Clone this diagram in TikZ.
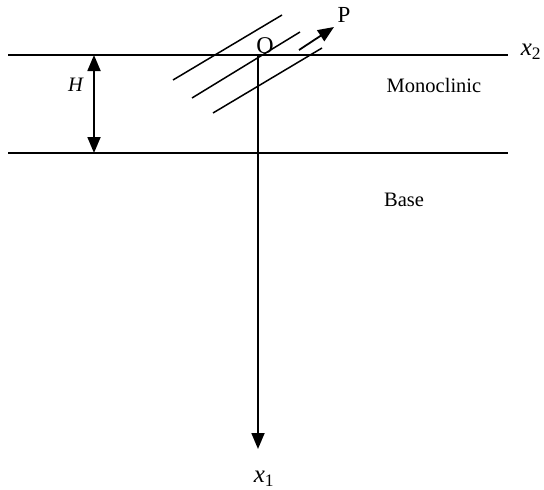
\documentclass[tikz,border=0pt]{standalone}
\usepackage{fontspec}
\setmainfont{Liberation Serif}
\usetikzlibrary{arrows.meta}

\begin{document}
\begin{tikzpicture}[x=1pt, y=-1pt,
	    layer/.style={draw=black, line width=1.5pt},
	    axis/.style={draw=black, line width=1.8pt, -{Triangle[length=16pt,width=13pt]}},
	    lbl/.style={inner sep=0pt, font=\fontsize{20.5}{24}\selectfont},
	    axlbl/.style={inner sep=0pt, font=\fontsize{25}{28}\selectfont}]
	    \useasboundingbox (0,0) rectangle (544,490);
	    
	    % interfaces
	    \coordinate (topL) at (8,55);
	    \coordinate (topR) at (508,55);
	    \coordinate (botL) at (8,153);
	    \coordinate (botR) at (508,153);
	    \coordinate (O) at (258,55);
	    \coordinate (axisEnd) at (258,449);
	    \coordinate (hTop) at (94,55);
	    \coordinate (hBot) at (94,153);
	    
	    \path [layer] (topL) -- (topR);
	    \path [layer] (botL) -- (botR);
	    
	    % wave fronts
	    \coordinate (w1a) at (173,80);  \coordinate (w1b) at (282,15);
	    \coordinate (w2a) at (192,98);  \coordinate (w2b) at (300,32);
	    \coordinate (w3a) at (213,113); \coordinate (w3b) at (322,48);
	    \path [layer] (w1a) -- (w1b);
	    \path [layer] (w2a) -- (w2b);
	    \path [layer] (w3a) -- (w3b);
	    \coordinate (pStart) at (299,50);
	    \coordinate (pEnd) at (334,27);
	    \path [axis] (pStart) -- (pEnd);
	    
	    % axes
	    \path [axis] (O) -- (axisEnd);
	    \path [axis, {Triangle[length=16pt,width=13pt]}-{Triangle[length=16pt,width=13pt]}] (hTop) -- (hBot);
	    
	    % labels
	    \node [lbl, font=\fontsize{24}{28}\selectfont] (oLbl) at (265,46) {O};
	    \node [lbl, font=\fontsize{23}{28}\selectfont] (pLbl) at (344,15) {P};
	    \node [lbl] (hLbl) at (76,85) {\textit{H}};
	    \node [axlbl] (x2Lbl) at (531,52) {\textit{x}\textsubscript{2}};
	    \node [axlbl] (x1Lbl) at (264,479) {\textit{x}\textsubscript{1}};
	    \node [lbl] (mono) at (434,85) {Monoclinic};
	    \node [lbl] (base) at (404,200) {Base};
	\end{tikzpicture}
\end{document}
